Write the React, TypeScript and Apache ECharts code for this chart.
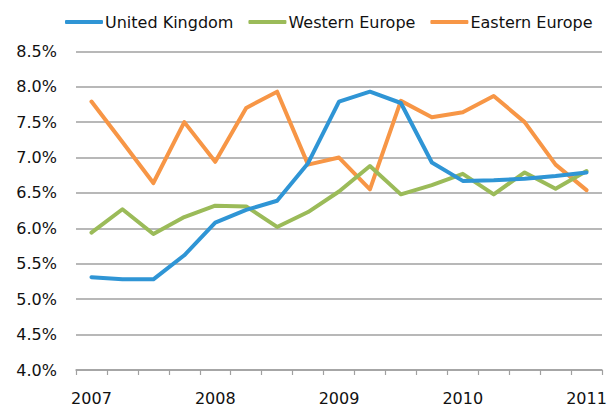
import React, { useEffect, useRef } from "react";
import * as echarts from "echarts";

const periods = [
  "2007 Q1", "2007 Q2", "2007 Q3", "2007 Q4",
  "2008 Q1", "2008 Q2", "2008 Q3", "2008 Q4",
  "2009 Q1", "2009 Q2", "2009 Q3", "2009 Q4",
  "2010 Q1", "2010 Q2", "2010 Q3", "2010 Q4",
  "2011 Q1",
];

const unitedKingdom = [5.31, 5.28, 5.28, 5.62, 6.08, 6.26, 6.39, 6.92, 7.79, 7.93, 7.77, 6.93, 6.67, 6.68, 6.7, 6.74, 6.79];
const westernEurope = [5.94, 6.27, 5.92, 6.16, 6.32, 6.31, 6.02, 6.23, 6.52, 6.88, 6.48, 6.61, 6.77, 6.48, 6.79, 6.56, 6.81];
const easternEurope = [7.79, 7.22, 6.64, 7.5, 6.94, 7.7, 7.93, 6.9, 7.0, 6.55, 7.8, 7.57, 7.64, 7.87, 7.5, 6.9, 6.54];

const seriesNames = ["United Kingdom", "Western Europe", "Eastern Europe"];
const colors = ["#2f95d5", "#9bbb59", "#f79646"];

const FONT = "DejaVu Sans";

export default function App() {
  const ref = useRef<HTMLDivElement>(null);
  useEffect(() => {
    if (!ref.current) return;
    const chart = echarts.init(ref.current, undefined, { renderer: "svg" });
    const data = [unitedKingdom, westernEurope, easternEurope];
    chart.setOption({
      animation: false,
      backgroundColor: "#ffffff",
      color: colors,
      legend: {
        top: 9,
        left: 60,
        icon: "roundRect",
        itemWidth: 38,
        itemHeight: 4,
        itemGap: 15,
        textStyle: {
          fontFamily: FONT,
          fontSize: 16,
          color: "#111",
          padding: [2, 0, 0, -3],
        },
        data: seriesNames,
      },
      grid: { left: 76, right: 14, top: 51.3, bottom: 37, containLabel: false },
      xAxis: {
        type: "category",
        data: periods,
        boundaryGap: true,
        axisLine: { show: true, lineStyle: { color: "#a0a0a0", width: 1.5 } },
        axisTick: { show: true, interval: 0, length: 5, lineStyle: { color: "#a0a0a0", width: 1.2 } },
        axisLabel: {
          interval: 3,
          margin: 20,
          fontFamily: FONT,
          fontSize: 16,
          color: "#111",
          formatter: (v: string) => v.split(" ")[0],
        },
        splitLine: { show: false },
      },
      yAxis: {
        type: "value",
        min: 4,
        max: 8.5,
        interval: 0.5,
        axisLine: { show: false },
        axisTick: { show: false },
        axisLabel: {
          margin: 19,
          fontFamily: FONT,
          fontSize: 16,
          color: "#111",
          formatter: (v: number) => v.toFixed(1) + "%",
        },
        splitLine: { show: true, lineStyle: { color: "#a0a0a0", width: 1.5 } },
      },
      series: seriesNames.map((name, i) => ({
        name,
        type: "line",
        data: data[i],
        symbol: "none",
        showSymbol: false,
        smooth: false,
        lineStyle: { width: 4, color: colors[i], join: "round", cap: "round" },
        itemStyle: { color: colors[i] },
        z: 3 - i,
      })),
    });
    return () => chart.dispose();
  }, []);
  return (
    <div
      ref={ref}
      style={{ position: "fixed", left: 0, top: 0, width: 616, height: 407, background: "#fff" }}
    />
  );
}
